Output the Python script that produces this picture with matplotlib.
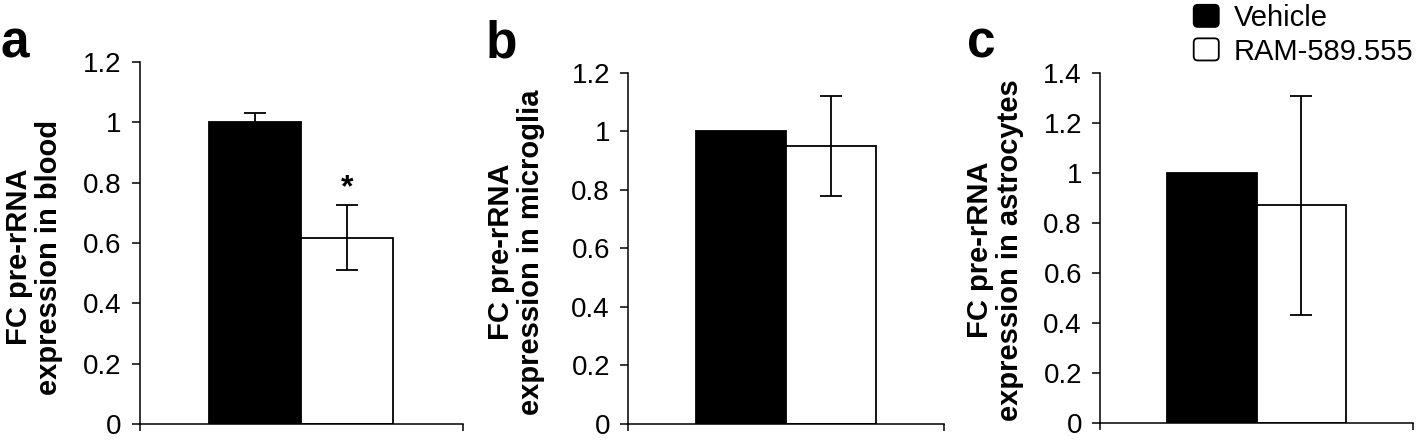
import matplotlib
matplotlib.use('Agg')
import matplotlib.pyplot as plt
from matplotlib.patches import Patch, FancyBboxPatch
from matplotlib.legend_handler import HandlerPatch

plt.rcParams['font.family'] = ['Liberation Sans', 'DejaVu Sans']

# data
groups = ['Vehicle', 'RAM-589.555']
colors = ['black', 'white']
panels = ['a', 'b', 'c']
ylabels = ['FC pre-rRNA\nexpression in blood',
           'FC pre-rRNA\nexpression in microglia',
           'FC pre-rRNA\nexpression in astrocytes']
vehicle_mean = [1.0, 1.0, 1.0]
vehicle_err = [0.032, 0.0, 0.0]
ram_mean = [0.618, 0.95, 0.87]
ram_err = [0.107, 0.17, 0.437]
ymax = [1.2, 1.2, 1.4]
yticks = [[0, 0.2, 0.4, 0.6, 0.8, 1, 1.2],
          [0, 0.2, 0.4, 0.6, 0.8, 1, 1.2],
          [0, 0.2, 0.4, 0.6, 0.8, 1, 1.2, 1.4]]
significant = [True, False, False]


class RoundBox(HandlerPatch):
    # legend swatch with rounded corners
    def create_artists(self, legend, orig_handle, xdescent, ydescent,
                       width, height, fontsize, trans):
        p = FancyBboxPatch((-xdescent, -ydescent), width, height,
                           boxstyle='round,pad=0,rounding_size=3',
                           facecolor=orig_handle.get_facecolor(),
                           edgecolor='black', linewidth=1.3, transform=trans)
        return [p]


W, H = 1418, 440
fig = plt.figure(figsize=(W / 100, H / 100), dpi=100)

# axes boxes in pixels: left, right, bottom, top
boxes = [(139.5, 463, 424, 62),
         (628, 944, 424, 72.7),
         (1100, 1413, 423.3, 72.7)]
label_x = [1, 486, 967]
label_off = [-76, -83, -76]      # ylabel right edge, px from axis
label_cy = [257, 252, 250]       # ylabel centre, px from top

bw = 0.285
for i in range(3):
    l, r, b, t = boxes[i]
    ax = fig.add_axes([l / W, (H - b) / H, (r - l) / W, (b - t) / H])
    means = [vehicle_mean[i], ram_mean[i]]
    errs = [vehicle_err[i], ram_err[i]]
    xs = [-bw / 2, bw / 2]
    for x, m, e, c in zip(xs, means, errs, colors):
        ax.bar(x, m, width=bw, color=c, edgecolor='black', linewidth=1.3, zorder=2)
        if e > 0:
            ax.errorbar(x, m, yerr=e, color='black', elinewidth=1.3,
                        capsize=8, capthick=1.3, zorder=3)
    if significant[i]:
        ax.text(xs[1], ram_mean[i] + ram_err[i] + 0.058, '*', ha='center', va='center',
                fontsize=23, fontweight='bold')
    ax.set_xlim(-0.5, 0.5)
    ax.set_ylim(0, ymax[i])
    ax.set_xticks([-0.5, 0.5])
    ax.set_xticklabels([])
    ax.set_yticks(yticks[i])
    ax.set_yticklabels(['{:g}'.format(v) for v in yticks[i]])
    ax.tick_params(axis='y', direction='out', length=6, width=1.1, pad=7, labelsize=20)
    ax.tick_params(axis='x', direction='out', length=5, width=1.1)
    for s in ['top', 'right']:
        ax.spines[s].set_visible(False)
    for s in ['left', 'bottom']:
        ax.spines[s].set_linewidth(1.1)
    ax.set_ylabel(ylabels[i], fontsize=21, fontweight='bold', linespacing=1.1)
    ax.yaxis.set_label_coords(label_off[i] / (r - l), (b - label_cy[i]) / (b - t))
    fig.text(label_x[i] / W, (H - 57) / H, panels[i], fontsize=37, fontweight='bold',
             ha='left', va='baseline')

handles = [Patch(facecolor=c, edgecolor='black') for c in colors]
fig.legend(handles, groups, loc='upper right', bbox_to_anchor=(1413 / W, 1.0 - 4 / H),
           frameon=False, fontsize=21, handlelength=0.86, handleheight=0.79,
           handletextpad=0.5, labelspacing=0.19, borderaxespad=0.0, borderpad=0.0,
           handler_map={Patch: RoundBox()})

fig.savefig('out.png', dpi=100)
